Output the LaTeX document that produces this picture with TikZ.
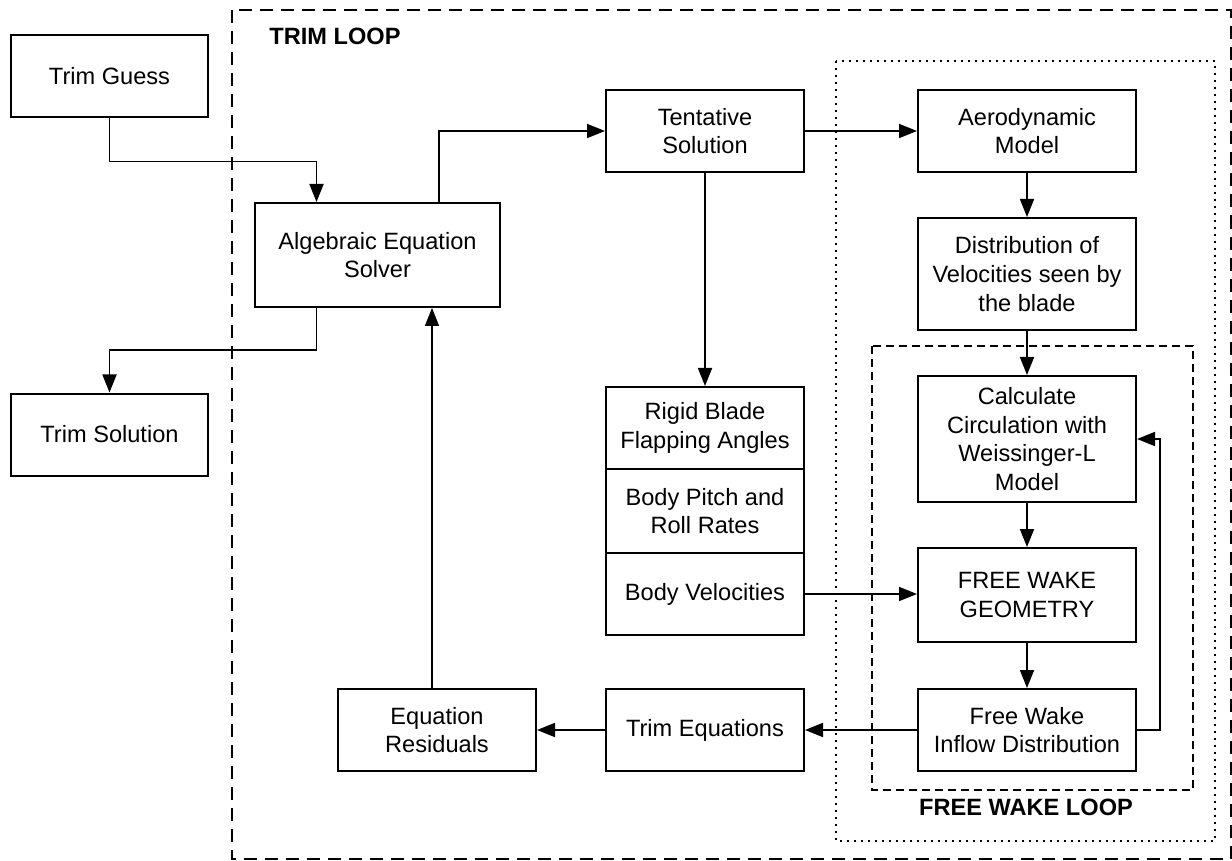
\documentclass[tikz,border=0pt]{standalone}
\usepackage{fontspec}
\setmainfont{Liberation Sans}
\usetikzlibrary{positioning,arrows.meta}

\begin{document}
\begin{tikzpicture}[x=0.5pt, y=-0.5pt, >={Triangle[length=9pt,width=7pt]},
  block/.style = {draw, line width=1pt, align=center, inner sep=2pt, minimum width=109pt, minimum height=41pt, font=\fontsize{11.8}{14.3}\selectfont},
  flow/.style = {->, line width=0.9pt},
  looplabel/.style = {font=\fontsize{11.8}{14.3}\selectfont\bfseries}]
\useasboundingbox (0,0) rectangle (1232,861);
\draw[line width=1pt, dash pattern=on 6.5pt off 4pt] (232,10) rectangle (1230.5,859);
\draw[line width=1pt, dash pattern=on 1pt off 2.5pt] (836,61) rectangle (1215,841);
\draw[line width=1pt, dash pattern=on 4pt off 2.5pt] (872,346) rectangle (1193,790);
\node[looplabel] (t) at (335,36.5) {TRIM LOOP};
\node[looplabel] (f) at (1026,807) {FREE WAKE LOOP};
\node[block, minimum width=98.5pt] (1) at (109.5,76.5) {Trim Guess};
\node[block, minimum width=122.5pt, minimum height=52pt] (2) at (377.5,255) {Algebraic Equation\\Solver};
\node[block, minimum width=98.5pt] (3) at (109.5,434.5) {Trim Solution};
\node[block, minimum width=99pt] (4) at (705,131) {Tentative\\Solution};
\node[block] (5) [right=56pt of 4] {Aerodynamic\\Model};
\node[block, minimum height=56pt] (6) [below=22pt of 5] {Distribution of\\Velocities seen by\\the blade};
\node[block, minimum height=63pt] (7) [below=22pt of 6] {Calculate\\Circulation with\\Weissinger-L\\Model};
\node[block, minimum height=47pt] (8) [below=22pt of 7] {FREE WAKE\\GEOMETRY};
\node[block] (9) [below=22.5pt of 8] {Free Wake\\Inflow Distribution};
\node[block, minimum width=99pt] (10) [left=56pt of 9] {Trim Equations};
\node[block, minimum width=99pt] (11) [left=34pt of 10] {Equation\\Residuals};
\node[block, minimum width=99pt, minimum height=41pt] (12) [below=106.5pt of 4] {Rigid Blade\\Flapping Angles};
\node[block, minimum width=99pt, minimum height=42pt] (13) [below=-1pt of 12] {Body Pitch and\\Roll Rates};
\node[block, minimum width=99pt, minimum height=41pt] (14) [below=-1pt of 13] {Body Velocities};
\draw[flow] (1.south) -- ++(0,43) -| ([xshift=-30.5pt]2.north);
\draw[flow] ([xshift=30.75pt]2.north) |- (4.west);
\draw[flow] ([xshift=-30.5pt]2.south) -- ++(0,42) -| (3.north);
\path[flow] (4) edge (5);
\path[flow] (4) edge (12);
\path[flow] (5) edge (6);
\path[flow] (6) edge (7);
\path[flow] (7) edge (8);
\path[flow] (8) edge (9);
\draw[flow] (14.east) -- (14.east -| 8.west);
\path[flow] (9) edge (10);
\path[flow] (10) edge (11);
\draw[flow] ([xshift=-2.5pt]11.north) -- ([xshift=-2.5pt]11.north |- 2.south);
\draw[flow] (9.east) -- ++(23,0) |- (7.east);
\end{tikzpicture}
\end{document}
